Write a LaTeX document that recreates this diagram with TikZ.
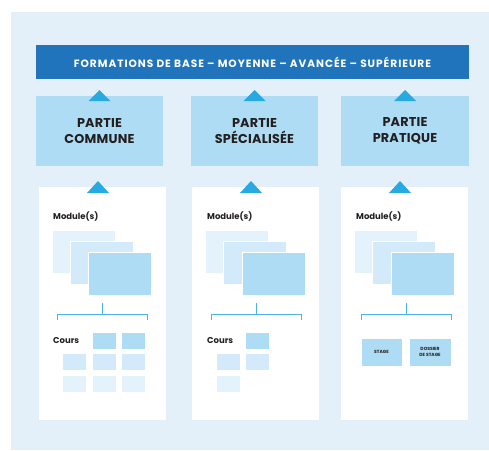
\documentclass[tikz,border=0pt]{standalone}
\usepackage{fontspec}
\setmainfont{Poppins}
\usetikzlibrary{calc}
\definecolor{bgblue}{HTML}{E3F0FA}
\definecolor{barblue}{HTML}{1F74BC}
\definecolor{midblue}{HTML}{AEDCF5}
\definecolor{lightblue}{HTML}{D2EAF9}
\definecolor{paleblue}{HTML}{E4F2FC}
\definecolor{triblue}{HTML}{27A9E1}
\definecolor{lineblue}{HTML}{4FB3E8}
\definecolor{darktext}{HTML}{231F20}
\begin{document}
\begin{tikzpicture}[x=1pt,y=-1pt,
  box/.style={anchor=north west,inner sep=0pt,outer sep=0pt},
  topbar/.style={box,fill=barblue,minimum width=433pt,minimum height=34pt,text=white,font=\bfseries\fontsize{10.6}{12}\selectfont\addfontfeatures{LetterSpace=9}},
  partie/.style={box,fill=midblue,minimum width=127pt,minimum height=70pt,text=darktext,align=center,font=\bfseries\fontsize{12.8}{15.5}\selectfont\addfontfeatures{LetterSpace=1.5}},
  panel/.style={box,fill=white,minimum width=127pt,minimum height=233pt},
  modA/.style={box,fill=paleblue,draw=white,line width=0.4pt,minimum width=63pt,minimum height=43pt},
  modB/.style={modA,fill=lightblue},
  modC/.style={modA,fill=midblue},
  cell/.style={box,draw=white,line width=0.4pt,minimum width=24pt,minimum height=17pt},
  lbl/.style={anchor=west,inner sep=0pt,text=darktext,font=\bfseries\fontsize{8.5}{10}\selectfont},
  stagebox/.style={box,fill=midblue,draw=white,line width=0.4pt,minimum width=41pt,minimum height=28pt,align=center,text=darktext,font=\bfseries\fontsize{4.5}{6}\selectfont},
  tri/.style={fill=triblue},
  brk/.style={draw=lineblue,line width=0.9pt}
]
\useasboundingbox (0,0) rectangle (489,450);
\fill[bgblue] (11,12) rectangle (489,450);

\node[topbar] (top) at (36,45) {FORMATIONS DE BASE – MOYENNE – AVANCÉE – SUPÉRIEURE};

\node[partie] (p1) at (36,96) {PARTIE\\COMMUNE};
\node[partie] (p2) at (191,96) {PARTIE\\SPÉCIALISÉE};
\node[partie,minimum width=128pt] (p3) at (341,96) {PARTIE\\PRATIQUE};

\foreach \p in {p1,p2,p3}{
  \fill[tri] ($(\p.north)+(-11,5)$) -- ($(\p.north)+(0,-6)$) -- ($(\p.north)+(11,5)$) -- cycle;
}

\node[panel] (w1) at (39,187) {};
\node[panel] (w2) at (192,187) {};
\node[panel] (w3) at (341,187) {};

\fill[tri] ($(w1.north)+(-15.5,6)$) -- ($(w1.north)+(-4.5,-6)$) -- ($(w1.north)+(6.5,6)$) -- cycle;
\fill[tri] ($(w2.north)+(-15.5,6)$) -- ($(w2.north)+(-4.5,-6)$) -- ($(w2.north)+(6.5,6)$) -- cycle;
\fill[tri] ($(w3.north)+(-15.5,6)$) -- ($(w3.north)+(-4.5,-6)$) -- ($(w3.north)+(6.5,6)$) -- cycle;

% module labels and stacks
\node[lbl] (ml1) at (53,217) {Module(s)};
\node[lbl] (ml2) at (207,217) {Module(s)};
\node[lbl] (ml3) at (356,217) {Module(s)};

\node[modA] (a1) at (52,230) {};
\node[modB] (b1) at (70,241) {};
\node[modC] (c1) at (88,252) {};
\node[modA] (a2) at (205,230) {};
\node[modB] (b2) at (223,241) {};
\node[modC] (c2) at (242,252) {};
\node[modA] (a3) at (354,230) {};
\node[modB] (b3) at (372,241) {};
\node[modC] (c3) at (391,252) {};

% brackets
\coordinate (k1) at (102,303);
\coordinate (k2) at (256,303);
\coordinate (k3) at (406,303);
\foreach \k in {k1,k2,k3}{
  \draw[brk] (\k) -- ++(0,11);
  \draw[brk] ($(\k)+(-45,17)$) -- ++(0,-6) -- ++(90,0) -- ++(0,6);
}

% cours
\node[lbl] (cl1) at (53,340.5) {Cours};
\node[lbl] (cl2) at (207,340.5) {Cours};

\node[cell,fill=midblue] (g12) at (92,332) {};
\node[cell,fill=midblue] (g13) at (121,332) {};
\node[cell,fill=lightblue] (g21) at (62,353) {};
\node[cell,fill=lightblue] (g22) at (92,353) {};
\node[cell,fill=lightblue] (g23) at (121,353) {};
\node[cell,fill=paleblue] (g31) at (62,375) {};
\node[cell,fill=paleblue] (g32) at (92,375) {};
\node[cell,fill=paleblue] (g33) at (121,375) {};

\node[cell,fill=midblue] (h12) at (245,332) {};
\node[cell,fill=lightblue] (h21) at (216,353) {};
\node[cell,fill=lightblue] (h22) at (245,353) {};
\node[cell,fill=paleblue] (h31) at (216,375) {};

% stage
\node[stagebox] (s1) at (361,338) {STAGE};
\node[stagebox,minimum width=42pt] (s2) at (409,338) {DOSSIER\\DE STAGE};
\end{tikzpicture}
\end{document}
